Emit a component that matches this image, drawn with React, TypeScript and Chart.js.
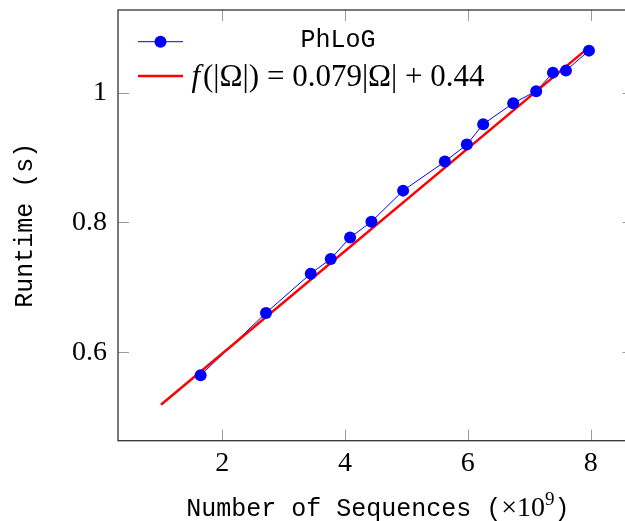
import { useEffect, useRef } from 'react';
import { Chart, registerables } from 'chart.js';

Chart.register(...registerables);

// ---- data ----
const seqCounts = [1.646, 2.711, 3.44, 3.766, 4.081, 4.429, 4.945, 5.625, 5.983, 6.249, 6.738, 7.113, 7.386, 7.598, 7.973];
const runtimes = [0.5646, 0.6606, 0.7211, 0.7438, 0.7766, 0.8012, 0.849, 0.8937, 0.9199, 0.9513, 0.9837, 1.0022, 1.0308, 1.0339, 1.0647];
const fitX = [1, 8];
const fitY = [0.519, 1.072];
const xTicks = [2, 4, 6, 8];
const xTickLabels = ['2', '4', '6', '8'];
const yTicks = [0.6, 0.8, 1];
const yTickLabels = ['0.6', '0.8', '1'];
const seriesName = 'PhLoG';
const fitLabelParts = [
  { text: 'f', italic: true },
  { text: '(|Ω|)', italic: false },
  { text: ' = ', italic: false },
  { text: '0.079|Ω|', italic: false },
  { text: ' + ', italic: false },
  { text: '0.44', italic: false },
];
const xTitleParts = [
  { text: 'Number of Sequences (', kind: 'mono' },
  { text: '×10', kind: 'serif' },
  { text: '9', kind: 'sup' },
  { text: ')', kind: 'mono' },
];
const yTitle = 'Runtime (s)';

const BLUE = '#0000ff';
const RED = '#ff0000';
const MONO = "'Courier New', 'Nimbus Mono PS', 'Nimbus Mono L', FreeMono, Courier, 'Liberation Mono', 'DejaVu Sans Mono', monospace";
const SERIF = "'Liberation Serif', 'DejaVu Serif', serif";

const frameAndTicks = {
  id: 'frameAndTicks',
  afterDraw(chart: any) {
    const ctx = chart.ctx as CanvasRenderingContext2D;
    const a = chart.chartArea;
    const xs = chart.scales.x;
    const ys = chart.scales.y;
    const tl = 11;
    ctx.save();
    ctx.strokeStyle = '#9a9a9a';
    ctx.lineWidth = 1;
    xTicks.forEach((v) => {
      const px = Math.round(xs.getPixelForValue(v)) + 0.5;
      ctx.beginPath();
      ctx.moveTo(px, a.bottom);
      ctx.lineTo(px, a.bottom - tl);
      ctx.moveTo(px, a.top);
      ctx.lineTo(px, a.top + tl);
      ctx.stroke();
    });
    yTicks.forEach((v) => {
      const py = Math.round(ys.getPixelForValue(v)) + 0.5;
      ctx.beginPath();
      ctx.moveTo(a.left, py);
      ctx.lineTo(a.left + tl, py);
      ctx.moveTo(a.right, py);
      ctx.lineTo(a.right - tl, py);
      ctx.stroke();
    });
    ctx.strokeStyle = '#333333';
    ctx.lineWidth = 1.3;
    ctx.strokeRect(a.left, a.top, a.right - a.left, a.bottom - a.top);

    // x axis title (mixed fonts)
    const fonts: Record<string, string> = {
      mono: `25px ${MONO}`,
      serif: `28px ${SERIF}`,
      sup: `19px ${SERIF}`,
    };
    let total = 0;
    xTitleParts.forEach((p) => {
      ctx.font = fonts[p.kind];
      total += ctx.measureText(p.text).width;
    });
    let x = (a.left + a.right) / 2 - total / 2 + 2;
    const baseline = a.bottom + 75.3;
    ctx.fillStyle = '#000';
    ctx.textBaseline = 'alphabetic';
    ctx.textAlign = 'left';
    xTitleParts.forEach((p) => {
      ctx.font = fonts[p.kind];
      const dy = p.kind === 'sup' ? -11 : 0;
      ctx.fillText(p.text, x, baseline + dy);
      x += ctx.measureText(p.text).width;
    });
    ctx.restore();
  },
};

const legendPlugin = {
  id: 'pgfLegend',
  afterDraw(chart: any) {
    const ctx = chart.ctx as CanvasRenderingContext2D;
    const a = chart.chartArea;
    const x0 = a.left + 20;
    const x1 = a.left + 65;
    const textCx = a.left + 220;
    const row1 = a.top + 31.7;
    const row2 = a.top + 66;
    ctx.save();
    ctx.strokeStyle = BLUE;
    ctx.lineWidth = 1;
    ctx.beginPath();
    ctx.moveTo(x0, row1);
    ctx.lineTo(x1, row1);
    ctx.stroke();
    ctx.fillStyle = BLUE;
    ctx.beginPath();
    ctx.arc((x0 + x1) / 2, row1, 6, 0, Math.PI * 2);
    ctx.fill();

    ctx.fillStyle = '#000';
    ctx.font = `25px ${MONO}`;
    ctx.textAlign = 'center';
    ctx.textBaseline = 'alphabetic';
    ctx.fillText(seriesName, textCx, a.top + 37.3);

    ctx.strokeStyle = RED;
    ctx.lineWidth = 2.5;
    ctx.beginPath();
    ctx.moveTo(x0, row2);
    ctx.lineTo(x1, row2);
    ctx.stroke();

    ctx.textAlign = 'left';
    const fontFor = (it: boolean) => `${it ? 'italic ' : ''}31px ${SERIF}`;
    const gap = (p: any) => (p.italic ? 3 : 0);
    let total = 0;
    fitLabelParts.forEach((p) => {
      ctx.font = fontFor(p.italic);
      total += ctx.measureText(p.text).width + gap(p);
    });
    let x = textCx - total / 2;
    fitLabelParts.forEach((p) => {
      ctx.font = fontFor(p.italic);
      ctx.fillText(p.text, x, a.top + 75.5);
      x += ctx.measureText(p.text).width + gap(p);
    });
    ctx.restore();
  },
};

export default function App() {
  const ref = useRef<HTMLCanvasElement | null>(null);
  useEffect(() => {
    if (!ref.current) return;
    const chart = new Chart(ref.current, {
      type: 'line',
      data: {
        datasets: [
          {
            label: seriesName + ' line',
            data: seqCounts.map((x, i) => ({ x, y: runtimes[i] })),
            borderColor: BLUE,
            borderWidth: 1,
            pointRadius: 0,
            fill: false,
            order: 3,
          },
          {
            label: 'fit',
            data: fitX.map((x, i) => ({ x, y: fitY[i] })),
            borderColor: RED,
            borderWidth: 2.5,
            pointRadius: 0,
            fill: false,
            order: 2,
          },
          {
            label: seriesName,
            data: seqCounts.map((x, i) => ({ x, y: runtimes[i] })),
            borderColor: BLUE,
            backgroundColor: BLUE,
            showLine: false,
            pointRadius: 6,
            pointBorderWidth: 0,
            order: 1,
          },
        ],
      },
      options: {
        responsive: false,
        animation: false,
        devicePixelRatio: 1,
        layout: { padding: { top: 10, right: 26.4, left: 0, bottom: 0 } },
        plugins: { legend: { display: false }, tooltip: { enabled: false } },
        scales: {
          x: {
            type: 'linear',
            min: 0.3,
            max: 8.7,
            grid: { display: false, drawTicks: false },
            border: { display: false },
            afterBuildTicks: (s: any) => {
              s.ticks = xTicks.map((v) => ({ value: v }));
            },
            afterFit: (s: any) => {
              s.height = 80.3;
              s.paddingLeft = 0;
              s.paddingRight = 0;
            },
            ticks: {
              padding: 6,
              color: '#000',
              font: { family: SERIF, size: 28 },
              maxRotation: 0,
              autoSkip: false,
              callback: (v: any) => xTickLabels[xTicks.indexOf(Number(v))] ?? '',
            },
          },
          y: {
            type: 'linear',
            min: 0.4637,
            max: 1.1273,
            grid: { display: false, drawTicks: false },
            border: { display: false },
            afterBuildTicks: (s: any) => {
              s.ticks = yTicks.map((v) => ({ value: v }));
            },
            afterFit: (s: any) => {
              s.width = 118;
              s.paddingTop = 0;
              s.paddingBottom = 0;
            },
            ticks: {
              padding: 11,
              color: '#000',
              font: { family: SERIF, size: 28 },
              autoSkip: false,
              callback: (v: any) => yTickLabels[yTicks.indexOf(Number(v))] ?? '',
            },
            title: {
              display: true,
              text: yTitle,
              color: '#000',
              font: { family: MONO, size: 25 },
              padding: { top: 10, bottom: 0 },
            },
          },
        },
      },
      plugins: [frameAndTicks, legendPlugin],
    } as any);
    return () => chart.destroy();
  }, []);
  return (
    <div style={{ position: 'fixed', left: 0, top: 0, width: 625, height: 521, overflow: 'hidden', background: '#fff' }}>
      <canvas ref={ref} width={660} height={521} style={{ display: 'block', width: 660, height: 521 }} />
    </div>
  );
}
